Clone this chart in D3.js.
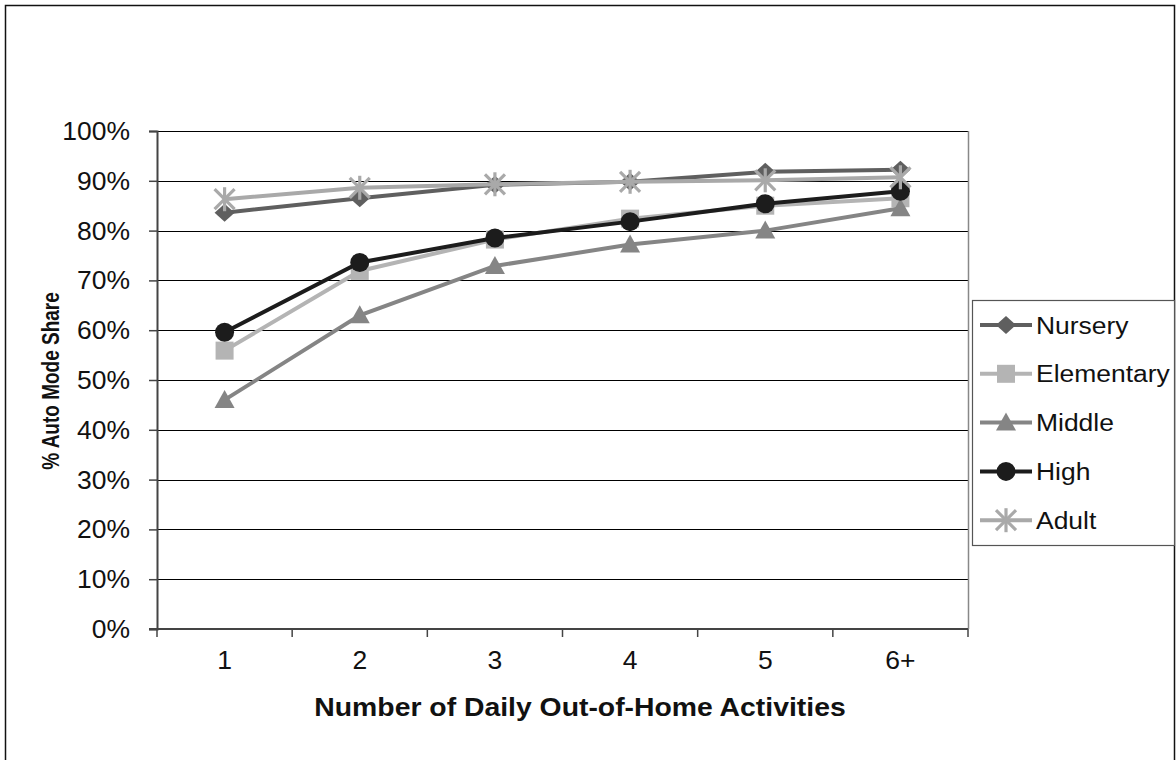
<!DOCTYPE html>
<html><head><meta charset="utf-8">
<script src="https://cdn.jsdelivr.net/npm/d3@7"></script>
<style>body{margin:0;background:#fff}svg{display:block;font-family:"Liberation Sans",Arial,sans-serif}</style>
</head><body><svg id="c" width="1176" height="760"></svg>
<script>
const categories = ["1","2","3","4","5","6+"];
const seriesNames = ["Nursery","Elementary","Middle","High","Adult"];
const nursery    = [83.6, 86.5, 89.2, 89.8, 91.8, 92.2];
const elementary = [55.9, 71.9, 78.2, 82.4, 85.0, 86.5];
const middle     = [46.0, 63.0, 72.9, 77.2, 80.0, 84.5];
const high       = [59.6, 73.6, 78.5, 81.8, 85.4, 87.9];
const adult      = [86.3, 88.6, 89.3, 89.8, 90.1, 90.7];
const yTicks = [0,10,20,30,40,50,60,70,80,90,100];

const seriesValues = [nursery, elementary, middle, high, adult];
const colors = ["#5f5f5f","#b4b4b4","#858585","#1c1c1c","#a9a9a9"];
const markers = ["diamond","square","triangle","circle","asterisk"];
const SX = 1.06; // horizontal stretch of text seen in the reference

const svg = d3.select("#c");
svg.append("rect").attr("x",5.5).attr("y",5.5).attr("width",1169).attr("height",780)
  .attr("fill","#fff").attr("stroke","#111").attr("stroke-width",1.5);

const L=157, R=968, T=131, B=629;
const x = d3.scaleBand().domain(categories).range([L,R]);
const y = d3.scaleLinear().domain([0,100]).range([B,T]);

function txt(g, tx, ty, s, size, anchor, bold, sx){
  return g.append("text").attr("transform",`translate(${tx},${ty}) scale(${sx||SX},1)`)
    .attr("text-anchor",anchor).attr("font-size",size).attr("fill","#111")
    .attr("font-weight",bold?"bold":null).text(s);
}

// gridlines
svg.append("g").selectAll("line").data(yTicks.filter(d=>d>0)).join("line")
  .attr("x1",L).attr("x2",R).attr("y1",d=>Math.round(y(d))+0.5).attr("y2",d=>Math.round(y(d))+0.5)
  .attr("stroke","#000").attr("stroke-width",1.2);
svg.append("line").attr("x1",R+0.5).attr("x2",R+0.5).attr("y1",T).attr("y2",B).attr("stroke","#888").attr("stroke-width",1.5);

// y axis
const yAx = svg.append("g").attr("transform",`translate(${L},0)`)
  .call(d3.axisLeft(y).tickValues(yTicks).tickFormat("").tickSize(8));
yAx.select(".domain").attr("stroke","#444").attr("stroke-width",2);
yAx.selectAll(".tick line").attr("stroke","#444").attr("stroke-width",1.5);
const yl = svg.append("g");
yTicks.forEach(t=>txt(yl, 130, y(t)+9, t+"%", 25, "end"));

// x axis
const xAx = svg.append("g").attr("transform",`translate(0,${B})`)
  .call(d3.axisBottom(x).tickSizeOuter(0).tickSize(0).tickFormat(""));
xAx.select(".domain").attr("stroke","#444").attr("stroke-width",2).attr("d",`M${L-8},0H${R}`);
const bounds = categories.map(c=>x(c)).concat([R]);
svg.append("g").selectAll("line").data(bounds).join("line")
  .attr("x1",d=>d).attr("x2",d=>d).attr("y1",B).attr("y2",B+8)
  .attr("stroke","#444").attr("stroke-width",1.5);
const xl = svg.append("g");
categories.forEach(c=>txt(xl, x(c)+x.bandwidth()/2, 669, c, 25, "middle"));

// titles
txt(svg, 580, 716, "Number of Daily Out-of-Home Activities", 26.5, "middle", true, 1.07);
svg.append("text").attr("transform",`translate(59,381) rotate(-90) scale(1,1.28)`).attr("text-anchor","middle")
  .attr("font-weight","bold").attr("font-size",19).attr("fill","#111").text("% Auto Mode Share");

function drawMarker(g, type, cx, cy, color){
  if(type==="diamond"){
    g.append("path").attr("d",`M${cx},${cy-9}L${cx+10},${cy}L${cx},${cy+9}L${cx-10},${cy}Z`).attr("fill",color);
  } else if(type==="square"){
    g.append("rect").attr("x",cx-9).attr("y",cy-9).attr("width",18).attr("height",18).attr("fill",color);
  } else if(type==="triangle"){
    g.append("path").attr("d",`M${cx},${cy-10}L${cx+10},${cy+8}L${cx-10},${cy+8}Z`).attr("fill",color);
  } else if(type==="circle"){
    g.append("circle").attr("cx",cx).attr("cy",cy).attr("r",9.5).attr("fill",color);
  } else if(type==="asterisk"){
    const r=10;
    const a = g.append("g").attr("stroke",color).attr("stroke-width",3.2);
    a.append("line").attr("x1",cx).attr("x2",cx).attr("y1",cy-12).attr("y2",cy+12);
    a.append("line").attr("x1",cx-r).attr("x2",cx+r).attr("y1",cy-r).attr("y2",cy+r);
    a.append("line").attr("x1",cx-r).attr("x2",cx+r).attr("y1",cy+r).attr("y2",cy-r);
  }
}

const line = d3.line().x((d,i)=>x(categories[i])+x.bandwidth()/2).y(d=>y(d));
seriesValues.forEach((vals,si)=>{
  const g = svg.append("g");
  g.append("path").datum(vals).attr("d",line).attr("fill","none")
    .attr("stroke",colors[si]).attr("stroke-width",4);
  vals.forEach((v,i)=>drawMarker(g, markers[si], x(categories[i])+x.bandwidth()/2, y(v), colors[si]));
});

// legend
const lg = svg.append("g");
lg.append("rect").attr("x",972.5).attr("y",300.5).attr("width",202).attr("height",245)
  .attr("fill","#fff").attr("stroke","#555").attr("stroke-width",1.2);
seriesNames.forEach((n,i)=>{
  const cy = 325 + i*48.8;
  lg.append("line").attr("x1",980).attr("x2",1032).attr("y1",cy).attr("y2",cy).attr("stroke",colors[i]).attr("stroke-width",4);
  drawMarker(lg, markers[i], 1006, cy, colors[i]);
  txt(lg, 1036, cy+8.5, n, 24.5, "start", false, 1.08);
});
</script></body></html>
